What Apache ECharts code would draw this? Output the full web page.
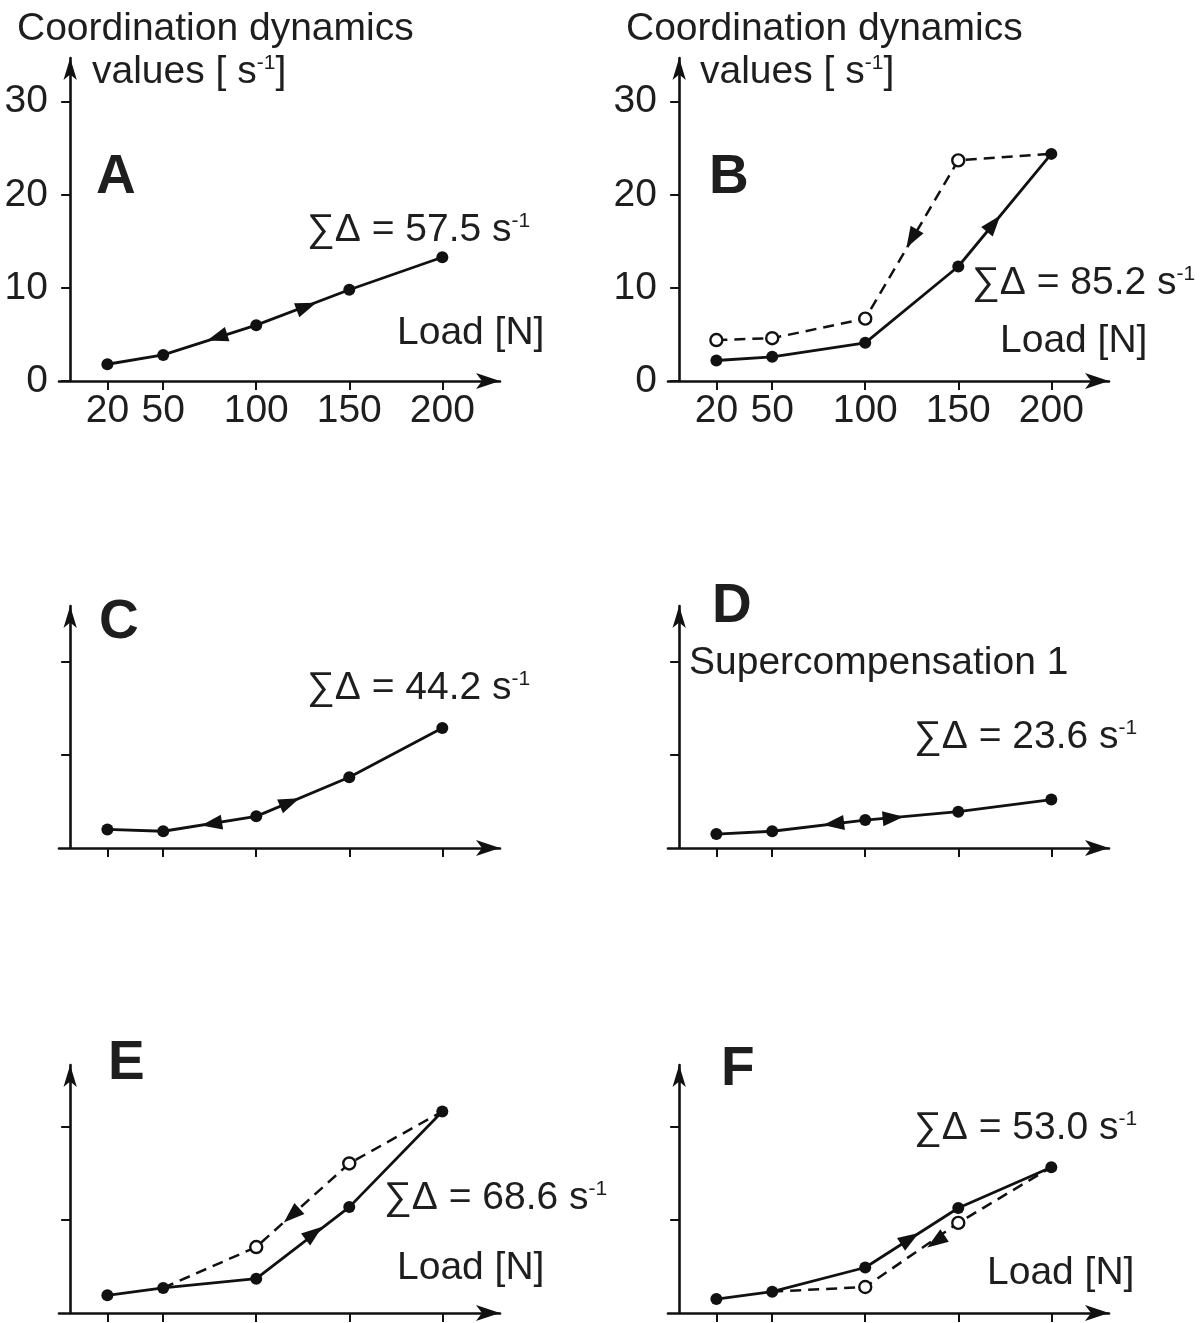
<!DOCTYPE html>
<html>
<head>
<meta charset="utf-8">
<script src="https://cdn.jsdelivr.net/npm/echarts@6/dist/echarts.min.js"></script>
<style>
  html, body { margin: 0; padding: 0; background: #fff; }
  #chart { width: 1204px; height: 1323px; }
</style>
</head>
<body>
<div id="chart"></div>
<script>
  // load steps on the x axis [N]
  const loads = [20, 50, 100, 150, 200]
  const yLabelsTop = [0, 10, 20, 30]
  const yTicksLower = [10, 20]

  // coordination dynamics values [s-1], solid = rising load, dashed = falling load
  const solidA = [1.8, 2.8, 6.0, 9.8, 13.3]
  const solidB = [2.2, 2.6, 4.1, 12.3, 24.4]
  const dashedB = [4.4, 4.6, 6.7, 23.7, 24.4]
  const solidC = [2.0, 1.8, 3.4, 7.6, 12.9]
  const solidD = [1.5, 1.8, 3.0, 3.9, 5.2]
  const solidE = [1.9, 2.7, 3.7, 11.4, 21.7]
  const dashedE = [null, 2.7, 7.1, 16.1, 21.7]
  const solidF = [1.5, 2.3, 4.9, 11.3, 15.7]
  const dashedF = [null, 2.3, 2.8, 9.7, 15.7]

  // direction arrows: [load, value, line, direction (1 = towards higher load)]
  const arrowsA = [[79, 4.7, 'solid', -1], [127, 8.0, 'solid', 1]]
  const arrowsB = [[125, 15.3, 'dashed', -1], [169, 16.9, 'solid', 1]]
  const arrowsC = [[76, 2.6, 'solid', -1], [118, 4.9, 'solid', 1]]
  const arrowsD = [[83, 2.6, 'solid', -1], [115, 3.25, 'solid', 1]]
  const arrowsE = [[119, 10.5, 'dashed', -1], [131, 8.6, 'solid', 1]]
  const arrowsF = [[138, 7.7, 'dashed', -1], [124, 8.0, 'solid', 1]]

  const sums = ['57.5', '85.2', '44.2', '23.6', '68.6', '53.0']
  const letters = ['A', 'B', 'C', 'D', 'E', 'F']

  const FONT = '"Liberation Sans", Arial, sans-serif'
  const INK = '#111'
  const TXT = '#1e1e1e'
  const FS = 39

  // grid layout (px)
  const colLeft = [59, 668]
  const rows = [
    { top: 58, height: 323, max: 34.7 },
    { top: 606, height: 242, max: 26 },
    { top: 1065, height: 248, max: 26.7 }
  ]

  const panels = [
    { solid: solidA, dashed: null, arrows: arrowsA },
    { solid: solidB, dashed: dashedB, arrows: arrowsB },
    { solid: solidC, dashed: null, arrows: arrowsC },
    { solid: solidD, dashed: null, arrows: arrowsD },
    { solid: solidE, dashed: dashedE, arrows: arrowsE },
    { solid: solidF, dashed: dashedF, arrows: arrowsF }
  ]

  const grids = []
  const xAxes = []
  const yAxes = []
  const series = []

  panels.forEach((p, i) => {
    const row = rows[Math.floor(i / 2)]
    const isTop = i < 2
    grids.push({
      left: colLeft[i % 2],
      top: row.top,
      width: 441,
      height: row.height,
      outerBoundsMode: 'none'
    })
    xAxes.push({
      gridIndex: i,
      type: 'value',
      min: -6,
      max: 231,
      axisLine: {
        show: true,
        onZero: true,
        symbol: ['none', 'arrow'],
        symbolSize: [12, 24],
        lineStyle: { color: INK, width: 2.6 }
      },
      axisTick: {
        show: true,
        customValues: loads,
        length: 9,
        lineStyle: { color: INK, width: 2 }
      },
      axisLabel: {
        show: isTop,
        customValues: loads,
        color: TXT,
        fontSize: FS,
        fontFamily: FONT,
        margin: 11
      },
      splitLine: { show: false }
    })
    yAxes.push({
      gridIndex: i,
      type: 'value',
      min: 0,
      max: row.max,
      axisLine: {
        show: true,
        onZero: true,
        symbol: ['none', 'arrow'],
        symbolSize: [10, 22],
        lineStyle: { color: INK, width: 2.6 }
      },
      axisTick: {
        show: true,
        customValues: isTop ? yLabelsTop : yTicksLower,
        length: 9,
        lineStyle: { color: INK, width: 2 }
      },
      axisLabel: {
        show: isTop,
        customValues: yLabelsTop,
        color: TXT,
        fontSize: FS,
        fontFamily: FONT,
        margin: 11
      },
      splitLine: { show: false }
    })

    const toData = vals => loads.map((x, k) => [x, vals[k]]).filter(d => d[1] != null)

    if (p.dashed) {
      series.push({
        type: 'line',
        xAxisIndex: i,
        yAxisIndex: i,
        data: toData(p.dashed),
        // shared end points keep the filled dot of the solid line
        symbol: (val) => {
          const k = loads.indexOf(val[0])
          return p.solid[k] === val[1] ? 'none' : 'circle'
        },
        symbolSize: 12,
        itemStyle: { color: '#fff', borderColor: INK, borderWidth: 2.4 },
        lineStyle: { color: INK, width: 2.5, type: [11, 7] },
        z: 2
      })
    }
    series.push({
      type: 'line',
      xAxisIndex: i,
      yAxisIndex: i,
      data: toData(p.solid),
      symbol: 'circle',
      symbolSize: 12,
      itemStyle: { color: INK },
      lineStyle: { color: INK, width: 2.8 },
      z: 3
    })
  })

  // texts
  const sup = { fontSize: 21, fontFamily: FONT, fill: TXT, verticalAlign: 'top' }
  const txt = (text, x, y, size, bold) => ({
    type: 'text',
    x: x,
    y: y,
    style: {
      text: text,
      fill: TXT,
      fontSize: size,
      fontWeight: bold ? 'bold' : 'normal',
      fontFamily: FONT,
      verticalAlign: 'middle',
      rich: {
        m: { fontSize: size, fontFamily: FONT, fill: TXT },
        s: sup
      }
    },
    z: 10
  })
  const sumText = (k, x, y) => txt('{m|∑Δ = ' + sums[k] + ' s}{s|-1}', x, y, FS)

  const graphic = [
    txt('Coordination dynamics', 17, 29, FS),
    txt('{m|values [ s}{s|-1}{m|]}', 92, 72, FS),
    txt('Coordination dynamics', 626, 29, FS),
    txt('{m|values [ s}{s|-1}{m|]}', 700, 72, FS),
    txt(letters[0], 96, 178, 55, true),
    txt(letters[1], 709, 178, 55, true),
    txt(letters[2], 99, 623, 55, true),
    txt(letters[3], 712, 607, 55, true),
    txt(letters[4], 108, 1064, 55, true),
    txt(letters[5], 721, 1070, 55, true),
    sumText(0, 307, 230),
    sumText(1, 972, 283),
    sumText(2, 307, 688),
    sumText(3, 914, 737),
    sumText(4, 384, 1198),
    sumText(5, 914, 1128),
    txt('Load [N]', 397, 333, FS),
    txt('Load [N]', 1000, 341, FS),
    txt('Load [N]', 397, 1268, FS),
    txt('Load [N]', 987, 1273, FS),
    txt('Supercompensation 1', 689, 663, FS)
  ]

  const chart = echarts.init(document.getElementById('chart'))
  chart.setOption({
    animation: false,
    backgroundColor: '#fff',
    grid: grids,
    xAxis: xAxes,
    yAxis: yAxes,
    series: series,
    graphic: graphic
  })

  // arrow heads along the lines, rotated to the segment direction in pixel space
  const arrowSeries = panels.map((p, i) => {
    const data = p.arrows.map(a => {
      const vals = a[2] === 'dashed' ? p.dashed : p.solid
      let k = 0
      while (k < loads.length - 2 && a[0] > loads[k + 1]) k++
      const p1 = chart.convertToPixel({ gridIndex: i }, [loads[k], vals[k]])
      const p2 = chart.convertToPixel({ gridIndex: i }, [loads[k + 1], vals[k + 1]])
      let ang = Math.atan2(p1[1] - p2[1], p2[0] - p1[0]) * 180 / Math.PI
      if (a[3] < 0) ang += 180
      return { value: [a[0], a[1]], symbolRotate: ang - 90 }
    })
    return {
      type: 'scatter',
      xAxisIndex: i,
      yAxisIndex: i,
      data: data,
      symbol: 'triangle',
      symbolSize: [15, 21],
      itemStyle: { color: INK, opacity: 1 },
      z: 5
    }
  })
  chart.setOption({ series: series.concat(arrowSeries) })
</script>
</body>
</html>
